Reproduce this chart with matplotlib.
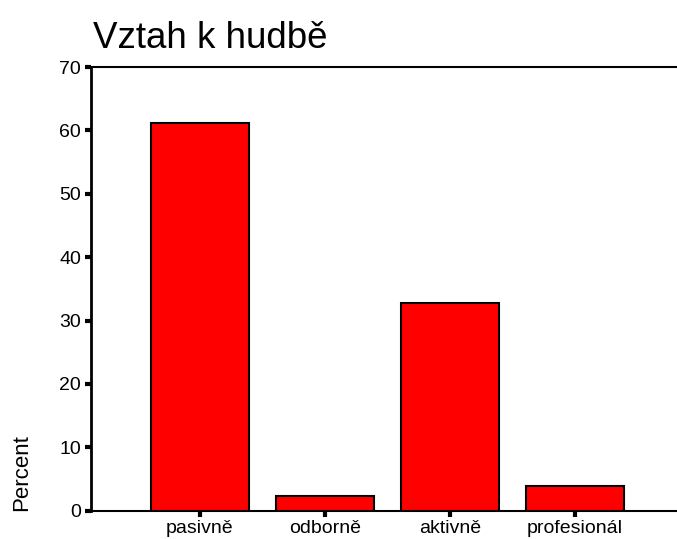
import numpy as np
import matplotlib
matplotlib.use("Agg")
from matplotlib import pyplot as plt

plt.rcParams['font.family'] = ['Liberation Sans', 'DejaVu Sans']

categories = ['pasivně', 'odborně', 'aktivně', 'profesionál']
percent = [61.2, 2.3, 32.7, 3.85]
y_ticks = [0, 10, 20, 30, 40, 50, 60, 70]


def main():
    fig = plt.figure(figsize=(6.77, 5.39), dpi=100)
    ax = fig.add_axes([0.134, 0.0525, 0.865, 0.823])

    x = np.arange(len(categories))
    ax.bar(x, percent, width=0.78, color='#ff0000', edgecolor='black', linewidth=1.5, zorder=3)

    ax.set_xlim(-0.873, 3.81)
    ax.set_ylim(0, 70)
    ax.set_yticks(y_ticks)
    ax.set_xticks(x)
    ax.set_xticklabels(categories, fontsize=14)
    ax.tick_params(axis='y', direction='out', length=4, width=3, labelsize=14, pad=3)
    ax.tick_params(axis='x', direction='out', length=4, width=3, pad=3)

    ax.spines['right'].set_visible(False)
    ax.spines['left'].set_linewidth(2)
    ax.spines['bottom'].set_linewidth(1.5)
    ax.spines['top'].set_linewidth(1.5)

    fig.text(0.137, 0.928, 'Vztah k hudbě', fontsize=26.5, ha='left', va='center')
    fig.text(0.032, 0.0525, 'Percent', fontsize=16, rotation=90, ha='center', va='bottom')

    fig.savefig('out.png', dpi=100)


if __name__ == '__main__':
    main()
